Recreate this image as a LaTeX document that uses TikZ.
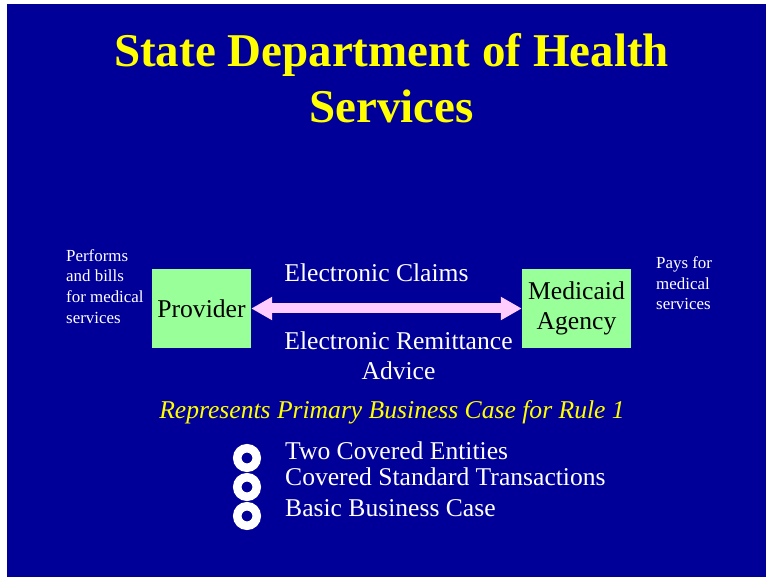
\documentclass[tikz,border=0pt]{standalone}
\usepackage{fontspec}
\setmainfont{Liberation Serif}
\usetikzlibrary{arrows.meta}
\definecolor{slideblue}{RGB}{0,0,153}
\definecolor{boxgreen}{RGB}{153,255,153}
\definecolor{flowpink}{RGB}{255,204,255}
\definecolor{titleyellow}{RGB}{255,255,0}
\tikzset{
    party/.style={fill=boxgreen, inner sep=0pt, minimum height=79pt, align=center,
        font=\fontsize{25.6}{30}\selectfont},
    flow/.style={{Triangle[length=21pt,width=22pt]}-{Triangle[length=21pt,width=22pt]}, line width=10pt, flowpink},
    note/.style={white, inner sep=0pt, align=left, font=\fontsize{16.9}{20.7}\selectfont},
    msg/.style={white, inner sep=0pt, align=center, font=\fontsize{25.6}{31}\selectfont},
    ring/.style={circle, draw=white, line width=8.5pt, minimum size=19.5pt, inner sep=0pt},
    item/.style={white, inner sep=0pt, anchor=base west, font=\fontsize{25.6}{30}\selectfont}
}
\begin{document}
\begin{tikzpicture}[x=1pt, y=-1pt]
    \useasboundingbox (0,0) rectangle (766,577);
    \fill[white] (0,0) rectangle (766,577);
    \fill[slideblue] (7,4) rectangle (766,577);
    % title (base = last line)
    \node[titleyellow, inner sep=0pt, align=center, anchor=base,
        font=\fontsize{47}{56}\selectfont\bfseries] (title) at (391.5,122.7)
        {State Department of Health\\Services};
    % the two parties and the exchange
    \node[party, minimum width=99pt] (prov) at (201.5,308.5) {Provider};
    \node[party, minimum width=109pt] (med) at (576.5,308.5) {Medicaid\\Agency};
    \draw[flow] (prov) -- (med);
    \node[msg, anchor=base] (claims) at (376.5,281.7) {Electronic Claims};
    \node[msg, anchor=base] (remit) at (398.5,380) {Electronic Remittance\\Advice};
    \node[note, anchor=base west] (provnote) at (66,323.3)
        {Performs\\and bills\\for medical\\services};
    \node[note, anchor=base west] (mednote) at (656,310)
        {Pays for\\medical\\services};
    \node[titleyellow, inner sep=0pt, anchor=base, font=\fontsize{25.6}{30}\selectfont\itshape]
        (rule) at (392,418) {Represents Primary Business Case for Rule 1};
    % bullets
    \node[ring] (dot1) at (247,458) {};
    \node[ring] (dot2) at (247,487) {};
    \node[ring] (dot3) at (247,516) {};
    \node[item] (entities) at (285,459) {Two Covered Entities};
    \node[item] (trans) at (285,485) {Covered Standard Transactions};
    \node[item] (basic) at (285,516) {Basic Business Case};
\end{tikzpicture}
\end{document}
